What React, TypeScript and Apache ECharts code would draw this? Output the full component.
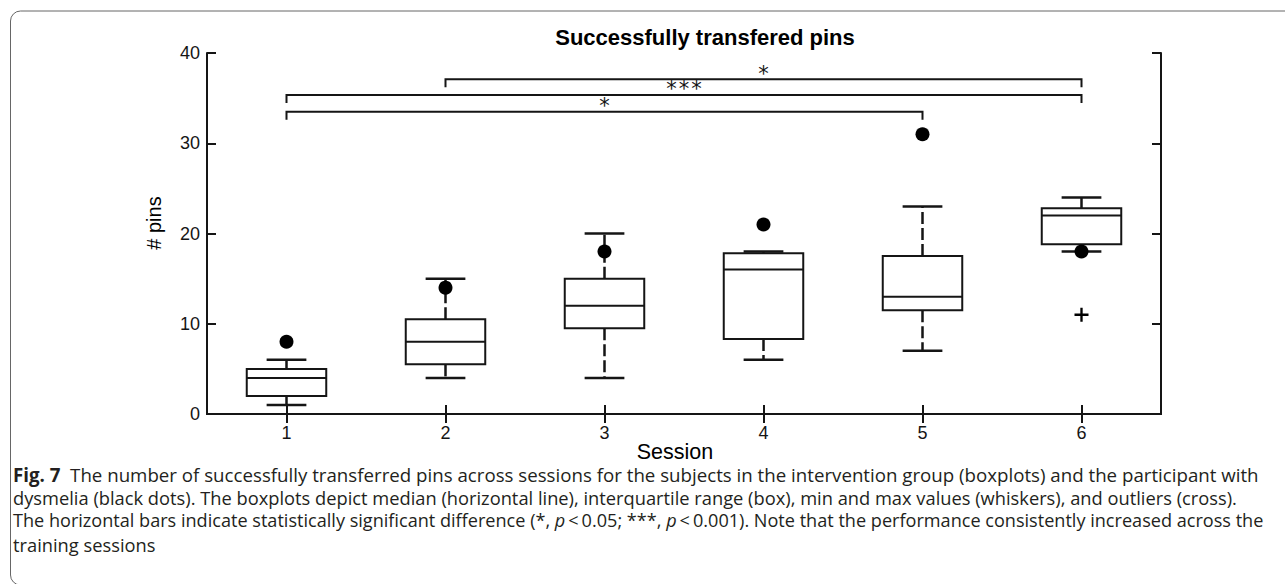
import React, { useEffect, useRef } from "react";
import * as echarts from "echarts";

// ---- data ----
const sessions = ["1", "2", "3", "4", "5", "6"];
const whiskerLow = [1, 4, 4, 6, 7, 18];
const quartile1 = [2, 5.5, 9.5, 8.3, 11.5, 18.8];
const medians = [4, 8, 12, 16, 13, 22];
const quartile3 = [5, 10.5, 15, 17.8, 17.5, 22.8];
const whiskerHigh = [6, 15, 20, 18, 23, 24];
const dysmeliaPins = [8, 14, 18, 21, 31, 18];
const outlierSession = [5];
const outlierValue = [11];
const bracketFrom = [1, 0, 0];
const bracketTo = [5, 5, 4];
const bracketLevel = [37.1, 35.35, 33.5];
const bracketLabels = ["*", "*\u200A*\u200A*", "*"];
const yMin = 0;
const yMax = 40;
const yStep = 10;

const titleText = "Successfully transfered pins";
const xName = "Session";
const yName = "# pins";

const INK = "#151515";
const SANS = "'Liberation Sans', Arial, sans-serif";
const CAP_FONT = "'Open Sans', 'Noto Sans', sans-serif";
const CAP_COLOR = "#231f20";

export default function App() {
  const ref = useRef<HTMLDivElement>(null);

  useEffect(() => {
    if (!ref.current) return;
    const chart = echarts.init(ref.current, undefined, { renderer: "svg" });

    const boxData = sessions.map((_, i) => [
      i,
      whiskerLow[i],
      quartile1[i],
      medians[i],
      quartile3[i],
      whiskerHigh[i],
    ]);
    const dotData = sessions.map((_, i) => [i, dysmeliaPins[i]]);
    const outlierData = outlierSession.map((s, i) => [s, outlierValue[i]]);
    const bracketData = bracketFrom.map((f, i) => [f, bracketTo[i], bracketLevel[i]]);

    const axisLine = { show: true, lineStyle: { color: INK, width: 2 } };
    const axisTick = { show: true, inside: true, length: 9, lineStyle: { color: INK, width: 2 } };

    const capStyle = (text: string, size: number, rich?: any) => ({
      text,
      fontSize: size,
      lineHeight: 18,
      fontFamily: CAP_FONT,
      fill: CAP_COLOR,
      verticalAlign: "middle",
      rich,
    });

    const option: any = {
      animation: false,
      backgroundColor: "#ffffff",
      grid: { left: 207, right: 124, top: 53, bottom: 170, containLabel: false },
      xAxis: [
        {
          type: "category",
          data: sessions,
          position: "bottom",
          boundaryGap: true,
          axisLine,
          axisTick: { ...axisTick, alignWithLabel: true },
          axisLabel: { fontSize: 18, color: INK, margin: 11, fontFamily: SANS, lineHeight: 16 },
          splitLine: { show: false },
        },
        {
          type: "category",
          data: sessions,
          position: "top",
          boundaryGap: true,
          axisLine,
          axisTick: { ...axisTick, alignWithLabel: true },
          axisLabel: { show: false },
          splitLine: { show: false },
        },
      ],
      yAxis: [
        {
          type: "value",
          min: yMin,
          max: yMax,
          interval: yStep,
          position: "left",
          axisLine,
          axisTick,
          axisLabel: { fontSize: 18, color: INK, margin: 7, fontFamily: SANS },
          splitLine: { show: false },
        },
        {
          type: "value",
          min: yMin,
          max: yMax,
          interval: yStep,
          position: "right",
          axisLine,
          axisTick,
          axisLabel: { show: false },
          splitLine: { show: false },
        },
      ],
      series: [
        {
          type: "custom",
          name: "boxplots",
          xAxisIndex: 0,
          yAxisIndex: 0,
          clip: false,
          encode: { x: 0, y: [1, 2, 3, 4, 5] },
          data: boxData,
          renderItem: (params: any, api: any) => {
            const i = api.value(0);
            const low = api.coord([i, api.value(1)]);
            const b1 = api.coord([i, api.value(2)]);
            const med = api.coord([i, api.value(3)]);
            const b3 = api.coord([i, api.value(4)]);
            const high = api.coord([i, api.value(5)]);
            const band = api.size([1, 0])[0];
            const bw = band * 0.5;
            const cw = band * 0.25;
            const x = med[0];
            const dash = { stroke: INK, lineWidth: 2.5, lineDash: [12, 4], fill: null };
            const solid = { stroke: INK, lineWidth: 2.5, fill: null };
            return {
              type: "group",
              children: [
                { type: "line", shape: { x1: x, y1: b1[1], x2: x, y2: low[1] }, style: dash },
                { type: "line", shape: { x1: x, y1: b3[1], x2: x, y2: high[1] }, style: dash },
                { type: "line", shape: { x1: x - cw / 2, y1: low[1], x2: x + cw / 2, y2: low[1] }, style: solid },
                { type: "line", shape: { x1: x - cw / 2, y1: high[1], x2: x + cw / 2, y2: high[1] }, style: solid },
                {
                  type: "rect",
                  shape: { x: x - bw / 2, y: b3[1], width: bw, height: b1[1] - b3[1] },
                  style: { fill: "#ffffff", stroke: INK, lineWidth: 2 },
                },
                { type: "line", shape: { x1: x - bw / 2, y1: med[1], x2: x + bw / 2, y2: med[1] }, style: { stroke: INK, lineWidth: 2 } },
              ],
            };
          },
          z: 2,
        },
        {
          type: "scatter",
          name: "dysmelia",
          xAxisIndex: 0,
          yAxisIndex: 0,
          data: dotData,
          symbol: "circle",
          symbolSize: 14,
          itemStyle: { color: "#000000", opacity: 1 },
          z: 5,
        },
        {
          type: "scatter",
          name: "outliers",
          xAxisIndex: 0,
          yAxisIndex: 0,
          data: outlierData,
          symbol: "path://M5,0h2v5h5v2h-5v5h-2v-5h-5v-2h5z",
          symbolSize: 14,
          itemStyle: { color: "#000000", opacity: 1 },
          z: 5,
        },
        {
          type: "custom",
          name: "significance",
          xAxisIndex: 0,
          yAxisIndex: 0,
          clip: false,
          data: bracketData,
          encode: { x: [0, 1], y: 2 },
          renderItem: (params: any, api: any) => {
            const p1 = api.coord([api.value(0), api.value(2)]);
            const p2 = api.coord([api.value(1), api.value(2)]);
            const drop = 8;
            return {
              type: "group",
              children: [
                {
                  type: "polyline",
                  shape: {
                    points: [
                      [p1[0], p1[1] + drop],
                      [p1[0], p1[1]],
                      [p2[0], p2[1]],
                      [p2[0], p2[1] + drop],
                    ],
                  },
                  style: { stroke: INK, lineWidth: 2, fill: null },
                },
                {
                  type: "text",
                  x: (p1[0] + p2[0]) / 2,
                  y: p1[1] + 5,
                  style: {
                    text: bracketLabels[params.dataIndex],
                    fontSize: 21,
                    lineHeight: 21,
                    fontFamily: "'DejaVu Sans', sans-serif",
                    fill: INK,
                    align: "center",
                    verticalAlign: "bottom",
                  },
                },
              ],
            };
          },
          z: 4,
        },
      ],
      graphic: [
        {
          type: "rect",
          shape: { x: 10.5, y: 11, width: 1400, height: 574, r: 10 },
          style: { fill: null, stroke: "#666666", lineWidth: 1 },
          silent: true,
          z: 0,
        },
        {
          type: "text",
          x: 705,
          y: 37,
          style: {
            text: titleText,
            fontSize: 22,
            fontWeight: "bold",
            fontFamily: SANS,
            fill: "#000",
            align: "center",
            verticalAlign: "middle",
          },
        },
        {
          type: "text",
          x: 675,
          y: 452,
          style: {
            text: xName,
            fontSize: 21.5,
            lineHeight: 18,
            fontFamily: SANS,
            fill: "#000",
            align: "center",
            verticalAlign: "middle",
          },
        },
        {
          type: "text",
          x: 154,
          y: 223,
          rotation: Math.PI / 2,
          style: {
            text: yName,
            fontSize: 20,
            fontFamily: SANS,
            fill: "#000",
            align: "center",
            verticalAlign: "middle",
          },
        },
        {
          type: "text",
          x: 13,
          y: 474,
          style: capStyle(
            "{b|Fig. 7}  The number of successfully transferred pins across sessions for the subjects in the intervention group (boxplots) and the participant with",
            18.7,
            { b: { fontWeight: "bold", fontSize: 18.7, lineHeight: 18, fontFamily: CAP_FONT, fill: CAP_COLOR } }
          ),
        },
        {
          type: "text",
          x: 13,
          y: 497,
          style: capStyle(
            "dysmelia (black dots). The boxplots depict median (horizontal line), interquartile range (box), min and max values (whiskers), and outliers (cross).",
            18.3
          ),
        },
        {
          type: "text",
          x: 13,
          y: 520,
          style: capStyle(
            "The horizontal bars indicate statistically significant difference (*, {i|p}\u2009<\u20090.05; ***, {i|p}\u2009<\u20090.001). Note that the performance consistently increased across the",
            18.1,
            { i: { fontStyle: "italic", fontSize: 18.1, lineHeight: 18, fontFamily: CAP_FONT, fill: CAP_COLOR } }
          ),
        },
        {
          type: "text",
          x: 13,
          y: 544,
          style: capStyle("training sessions", 18.3),
        },
      ],
    };

    chart.setOption(option);
    return () => chart.dispose();
  }, []);

  return (
    <div
      ref={ref}
      style={{ position: "fixed", left: 0, top: 0, width: 1285, height: 584, background: "#fff" }}
    />
  );
}
